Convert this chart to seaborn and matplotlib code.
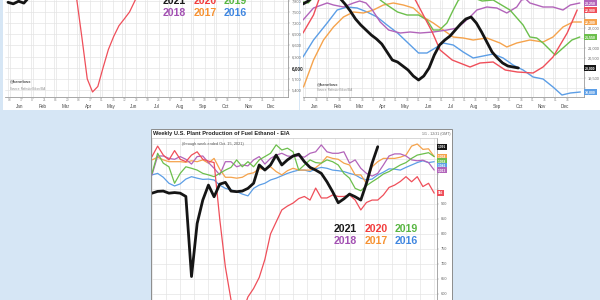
import matplotlib
matplotlib.use('Agg')
import matplotlib.pyplot as plt
import matplotlib.transforms as mtransforms
from matplotlib.patches import Rectangle
import pandas as pd
import seaborn as sns

# ------------------------------------------------------------------ data
MONTHS = ['Jan', 'Feb', 'Mar', 'Apr', 'May', 'Jun', 'Jul', 'Aug', 'Sep', 'Oct', 'Nov', 'Dec']
TL_DAYS = [['03', '17'], ['07', '21'], ['06', '20'], ['03', '17'], ['01', '15'], ['12', '26'],
           ['10', '24'], ['07', '21'], ['04', '18'], ['02', '16'], ['13', '27'], ['11', '25']]
TR_DAYS = [['01', '16']] * 12
YEARS = ['2021', '2020', '2019', '2018', '2017', '2016']

# top-left chart (weekly, only the visible part of the picture)
tl_2021_weeks = [0, 1, 2, 3, 4]
tl_2021_vals = [7760, 7720, 7790, 7740, 7900]
tl_2020_weeks = [12, 13, 14, 15, 16, 17, 18, 19, 20, 21, 22, 23, 24, 25]
tl_2020_vals = [8200, 7850, 6800, 5700, 5348, 5496, 6004, 6491, 6841, 7131, 7312, 7500, 7796, 8100]
TL_YTICKS = [5400, 5700, 6000, 6300, 6600, 6900, 7200, 7500, 7800]

# top-right chart (smoothed)
tr_2021_weeks = list(range(42))
tr_2021_vals = [23200, 23350, 23600, 23800, 23900, 23800, 23650, 23500, 23200, 22850,
                22450, 22150, 21900, 21650, 21450, 21200, 20800, 20400, 20300, 20100,
                19900, 19600, 19400, 19600, 20000, 20650, 21150, 21400, 21600, 21900,
                22200, 22450, 22550, 22250, 21800, 21300, 20800, 20500, 20250, 20100,
                20050, 20000]
tr_2020_weeks = [0, 2, 3, 4, 12, 20, 21.4, 23, 24.6, 26.1, 28.4, 31.8, 33.7, 36.2, 38.5,
                 40.8, 43.8, 45.7, 47.6, 50.3, 52.2]
tr_2020_vals = [21750, 22650, 23400, 23800, 24200, 23800, 23400, 22600, 21800, 20900, 20400,
                20050, 20250, 20300, 19900, 19800, 19750, 20050, 20550, 21750, 22900]
tr_2019_weeks = [0, 1, 2.5, 8, 14, 14.7, 16, 18, 19.8, 22, 23.6, 24.8, 26, 27.4, 28.6, 29.6,
                 31.5, 34.1, 36.2, 39.4, 41.9, 43.2, 44.5, 45.7, 48, 49.5, 51.2, 52.7]
tr_2019_vals = [23300, 23250, 23700, 24000, 23700, 23400, 23150, 22800, 22650, 22650, 22400,
                21900, 21900, 22250, 22900, 23400, 23600, 23350, 23400, 22900, 22150, 21550,
                21500, 21250, 20650, 21000, 21400, 21550]
tr_2018_weeks = [0, 2, 4.6, 5.8, 7.7, 9.6, 10.8, 12, 13.2, 14.7, 16.3, 18.5, 20.4, 22.3, 24.8,
                 27.4, 29.4, 30.5, 31.8, 33.1, 35, 36.9, 38.8, 40.7, 41.6, 42.4, 43.2, 45.7,
                 47.6, 49.5, 50.9, 52.7]
tr_2018_vals = [22400, 23000, 23250, 23150, 23050, 23250, 23350, 23250, 22900, 22300, 21900,
                21750, 21800, 21750, 21800, 21900, 22000, 22250, 22550, 22900, 23050, 23000,
                22750, 23050, 23400, 23450, 23250, 23050, 23050, 22900, 23150, 23250]
tr_2017_weeks = [0.1, 2, 3.9, 5.8, 7.7, 9.6, 11.5, 13.4, 15.3, 17.2, 19.1, 21, 22.9, 24.8,
                 26.7, 28.6, 30.5, 32.4, 35, 37.5, 38.8, 40.7, 43.2, 45.7, 47.6, 49.5, 51.4, 53]
tr_2017_vals = [19050, 20400, 21400, 22050, 22550, 22800, 22750, 22900, 23150, 23250, 23150,
                23000, 22550, 22250, 21900, 21550, 21500, 21400, 21500, 21250, 21050, 21250,
                21400, 21300, 21550, 22050, 22300, 22300]
tr_2016_weeks = [0, 2, 4.6, 6.5, 8.4, 10.3, 12.2, 14.1, 16, 18, 19.8, 22, 23.6, 25.5, 26.7,
                 28.6, 30.5, 32.4, 34.3, 36.2, 38.1, 40, 41.9, 43.8, 45.7, 47.6, 49.3, 50.9, 52.8]
tr_2016_vals = [20550, 21400, 22250, 22900, 23050, 23000, 22800, 22550, 22150, 21750, 21300,
                20750, 20750, 21050, 21250, 21150, 20800, 20500, 20600, 20700, 20500, 20150,
                19900, 19550, 19450, 19050, 18650, 18750, 18800]
TR_YTICKS = [19000, 19500, 20000, 20500, 21000, 21500, 22000, 22500, 23000]

# bottom chart: weekly U.S. plant production of fuel ethanol (thousand bpd), weeks from 1
eth_2021 = [936, 942, 943, 936, 938, 936, 925, 658, 835, 913, 963, 924, 966, 972, 943, 941,
            943, 952, 969, 1030, 1013, 1030, 1063, 1030, 1047, 1060, 1066, 1041, 1022, 1013,
            1002, 974, 941, 904, 917, 933, 924, 913, 969, 1036, 1091]
eth_2020 = [1058, 1093, 1063, 1047, 1078, 1049, 1041, 1063, 1074, 1049, 1043, 1038, 850, 690,
            580, 545, 537, 590, 618, 655, 715, 800, 840, 880, 893, 903, 918, 925, 913, 953,
            920, 920, 930, 925, 925, 930, 913, 880, 905, 913, 913, 930, 955, 963, 975, 991,
            974, 991, 958, 969, 936]
eth_2019 = [1002, 1069, 1036, 1024, 969, 1002, 1024, 1019, 1013, 1002, 997, 991, 1002, 1013,
            1022, 1047, 1024, 1041, 1024, 1047, 1058, 1069, 1097, 1080, 1086, 1074, 1013, 1030,
            1047, 1038, 1036, 1047, 1041, 1030, 1002, 986, 952, 944, 961, 974, 986, 1000, 1008,
            1019, 1030, 1038, 1052, 1063, 1067, 1071, 1058]
eth_2018 = [997, 1060, 1060, 1052, 1049, 1058, 1049, 1033, 1058, 1060, 1038, 1019, 997, 1041,
            1041, 1024, 1030, 1027, 1047, 1058, 1033, 1052, 1063, 1069, 1060, 1058, 1060, 1056,
            1069, 1074, 1097, 1074, 1069, 1069, 1074, 1036, 1047, 1019, 1002, 993, 1002, 1030,
            1060, 1067, 1067, 1060, 1047, 1044, 1046, 1038, 1013]
eth_2017 = [1047, 1056, 1047, 1041, 1041, 1041, 1039, 1044, 1041, 1047, 1036, 1052, 1016, 989,
            989, 986, 989, 1000, 1004, 1018, 1016, 1024, 1008, 997, 1011, 1019, 1013, 1013,
            1013, 1021, 1036, 1058, 1052, 1049, 1036, 1030, 997, 997, 969, 1024, 1041, 1052,
            1052, 1052, 1056, 1063, 1093, 1100, 1082, 1084, 1058]
eth_2016 = [997, 1002, 989, 969, 960, 967, 983, 991, 986, 982, 983, 980, 963, 952, 947, 941,
            933, 927, 952, 963, 969, 980, 986, 994, 1002, 1008, 1013, 1013, 1008, 1017, 1022,
            1019, 1013, 1011, 1008, 1002, 997, 986, 980, 983, 997, 1006, 1017, 1016, 1013,
            1022, 1030, 1038, 1044, 1038, 1041]
ETH_YTICKS = [600, 650, 700, 750, 800, 850, 900, 950, 1000, 1050, 1100]

TITLE = 'Weekly U.S. Plant Production of Fuel Ethanol - EIA'
SUBTITLE = '(through week ended Oct. 15, 2021)'
RANGE_TXT = '1/1 - 12/31 (GMT)'
HANDLE = '@kannbwx'
SOURCE = 'Source: Refinitiv Eikon/EIA'

# ------------------------------------------------------------------ style
BG = '#d6e6f5'
LINE_COLORS = {'2021': '#151515', '2020': '#ef4f5a', '2019': '#6cbf4c', '2018': '#b264ba',
               '2017': '#f5a34c', '2016': '#5c9ee6'}
TEXT_COLORS = {'2021': '#1a1a1a', '2020': '#f23d3d', '2019': '#58b642', '2018': '#a24fb2',
               '2017': '#f69232', '2016': '#3f86e0'}
GRID = '#e4e4e4'
W, H = 600, 300

sns.set_theme(style='white')
plt.rcParams['font.family'] = ['Liberation Sans', 'DejaVu Sans']

fig = plt.figure(figsize=(W / 100, H / 100), dpi=100)
fig.patch.set_facecolor(BG)


def frect(x0, y0, x1, y1):
    return [x0 / W, 1 - y1 / H, (x1 - x0) / W, (y1 - y0) / H]


def panel(x0, y0, x1, y1, edge='none'):
    fig.add_artist(Rectangle((x0 / W, 1 - y1 / H), (x1 - x0) / W, (y1 - y0) / H,
                             transform=fig.transFigure, facecolor='white', edgecolor=edge,
                             linewidth=0.7, zorder=-1))


def ftext(x, y, s, **kw):
    fig.text(x / W, 1 - y / H, s, **kw)


def draw_lines(ax, series, widths):
    frames = [pd.DataFrame({'week': wk, 'value': vals, 'year': yr})
              for yr, (wk, vals) in series.items()]
    df = pd.concat(frames, ignore_index=True)
    order = [y for y in YEARS[::-1] if y in series]
    sns.lineplot(data=df, x='week', y='value', hue='year', hue_order=order,
                 palette=LINE_COLORS, size='year', size_order=order, sizes=widths,
                 estimator=None, sort=False, legend=False, ax=ax)
    ax.set_xlabel('')
    ax.set_ylabel('')


def style_axes(ax, yticks, fs=2.8):
    ax.set_facecolor('white')
    ax.yaxis.tick_right()
    ax.set_yticks(yticks)
    ax.set_yticklabels([f'{v:,}' for v in yticks], fontsize=fs, color='#666')
    ax.tick_params(axis='y', length=1.5, width=0.3, pad=1, colors='#999', labelcolor='#666')
    for s in ['top', 'left']:
        ax.spines[s].set_visible(False)
    for s in ['right', 'bottom']:
        ax.spines[s].set_color('#9a9a9a')
        ax.spines[s].set_linewidth(0.6)
    ax.grid(axis='y', which='major', color=GRID, linewidth=0.5)


def date_axis(ax, days, offset):
    mlen = 52 / 12
    starts = [offset + i * mlen for i in range(13)]
    ax.set_xticks(starts)
    ax.set_xticklabels([''] * 13)
    ax.tick_params(axis='x', which='major', length=9, width=0.4, color='#aaa', direction='out')
    minor_pos, minor_lab = [], []
    for i, dd in enumerate(days):
        for j, d in enumerate(dd):
            minor_pos.append(offset + i * mlen + 0.4 + j * 2.2)
            minor_lab.append(d)
    ax.set_xticks(minor_pos, minor=True)
    ax.set_xticklabels(minor_lab, minor=True, fontsize=2.3, color='#888')
    ax.tick_params(axis='x', which='minor', length=0, pad=1)
    ax.grid(axis='x', which='minor', color=GRID, linewidth=0.5)
    ax.grid(axis='x', which='major', color=GRID, linewidth=0.5)
    tr = mtransforms.blended_transform_factory(ax.transData, ax.transAxes)
    for i, m in enumerate(MONTHS):
        ax.text(offset + i * mlen + mlen / 2, -0.095, m, transform=tr, ha='center',
                va='center', fontsize=3.3, color='#444', clip_on=False)


def value_boxes(ax, items, gap_px, fs, xoff=1.003):
    y0, y1 = ax.get_ylim()
    upp = (y1 - y0) / ax.bbox.height
    items = sorted(items, key=lambda t: -t[0])
    placed = []
    tr = mtransforms.blended_transform_factory(ax.transAxes, ax.transData)
    for v, c, txt in items:
        pos = min(v, y1 - 3 * upp)
        if placed and placed[-1] - pos < gap_px * upp:
            pos = placed[-1] - gap_px * upp
        placed.append(pos)
        ax.text(xoff, pos, txt, transform=tr, ha='left', va='center', fontsize=fs,
                color='white', fontweight='bold', clip_on=False, zorder=5,
                bbox=dict(boxstyle='square,pad=0.3', fc=c, ec='none'))
    # tick labels hidden behind a value box (as in the reference)
    for tick, lab in zip(ax.get_yticks(), ax.get_yticklabels()):
        if any(abs(tick - p) < gap_px * upp for p in placed):
            lab.set_visible(False)


def year_legend(x0, y_rows, fs):
    rows = [YEARS[:3], YEARS[3:]]
    for r, yrs in enumerate(rows):
        for i, yr in enumerate(yrs):
            ftext(x0 + i * 30.5, y_rows[r], yr, fontsize=fs, fontweight='bold',
                  color=TEXT_COLORS[yr], ha='left', va='center')


# ------------------------------------------------------------------ panels
panel(3, -2, 299, 110)
panel(300, -2, 602, 110)
panel(151, 128.5, 452, 303, edge='#8c8c8c')

# ---------------- top-left
ax1 = fig.add_axes(frect(5, 0, 288, 97))
draw_lines(ax1, {'2020': (tl_2020_weeks, tl_2020_vals), '2021': (tl_2021_weeks, tl_2021_vals)},
           {'2020': 0.9, '2021': 2.0})
ax1.set_xlim(-0.57, 53.0)
ax1.set_ylim(5213, 7823)
style_axes(ax1, TL_YTICKS)
for lab in ax1.get_yticklabels():
    if lab.get_text() == '6,000':
        lab.set_fontweight('bold')
        lab.set_color('#222')
        lab.set_fontsize(3.3)
date_axis(ax1, TL_DAYS, 0.0)
ax1.text(0.018, 0.165, HANDLE, transform=ax1.transAxes, fontsize=3.0, fontweight='bold',
         color='#555', va='center')
ax1.text(0.018, 0.085, SOURCE, transform=ax1.transAxes, fontsize=2.1, color='#888', va='center')
year_legend(163, [0.5, 12.5], 7.6)

# ---------------- top-right
ax2 = fig.add_axes(frect(303, 0, 584, 97))
draw_lines(ax2, {'2016': (tr_2016_weeks, tr_2016_vals), '2017': (tr_2017_weeks, tr_2017_vals),
                 '2018': (tr_2018_weeks, tr_2018_vals), '2019': (tr_2019_weeks, tr_2019_vals),
                 '2020': (tr_2020_weeks, tr_2020_vals), '2021': (tr_2021_weeks, tr_2021_vals)},
           {'2016': 1.0, '2017': 1.0, '2018': 1.0, '2019': 1.0, '2020': 1.0, '2021': 2.0})
ax2.set_xlim(0.1, 53.5)
ax2.set_ylim(18550, 23400)
style_axes(ax2, TR_YTICKS)
date_axis(ax2, TR_DAYS, 0.0)
ax2.text(0.05, 0.135, HANDLE, transform=ax2.transAxes, fontsize=3.0, fontweight='bold',
         color='#555', va='center')
ax2.text(0.05, 0.07, SOURCE, transform=ax2.transAxes, fontsize=2.1, color='#888', va='center')
tr_last = {'2021': tr_2021_vals[-1], '2020': tr_2020_vals[-1], '2019': tr_2019_vals[-1],
           '2018': tr_2018_vals[-1], '2017': tr_2017_vals[-1], '2016': tr_2016_vals[-1]}
value_boxes(ax2, [(v, LINE_COLORS[y], f'{v:,}') for y, v in tr_last.items()], 5.5, 2.5)

# ---------------- bottom
ax3 = fig.add_axes(frect(152, 138, 437, 305))
eth = {'2016': eth_2016, '2017': eth_2017, '2018': eth_2018, '2019': eth_2019,
       '2020': eth_2020, '2021': eth_2021}
draw_lines(ax3, {y: (list(range(1, len(v) + 1)), v) for y, v in eth.items()},
           {'2016': 0.9, '2017': 0.9, '2018': 0.9, '2019': 0.9, '2020': 0.9, '2021': 2.0})
ax3.set_xlim(1, 51.5)
ax3.set_ylim(563, 1120)
style_axes(ax3, ETH_YTICKS)
ax3.spines['top'].set_visible(True)
ax3.spines['top'].set_color('#c8c8c8')
ax3.spines['top'].set_linewidth(0.5)
ax3.set_xticks([1 + 2.5 * i for i in range(21)])
ax3.set_xticklabels([])
ax3.tick_params(axis='x', length=0)
ax3.grid(axis='x', color=GRID, linewidth=0.5)
ax3.grid(axis='y', color=GRID, linewidth=0.5)
value_boxes(ax3, [(v[-1], LINE_COLORS[y], f'{v[-1]:,}') for y, v in eth.items()], 4.6, 2.3)

ftext(153, 133.5, TITLE, fontsize=4.1, fontweight='bold', color='#222', ha='left', va='center')
ftext(450, 134, RANGE_TXT, fontsize=2.6, color='#666', ha='right', va='center')
ftext(182, 144, SUBTITLE, fontsize=2.8, color='#555', ha='left', va='center')
year_legend(334, [228.5, 241], 7.6)

fig.savefig('out.png', dpi=100, facecolor=BG)
